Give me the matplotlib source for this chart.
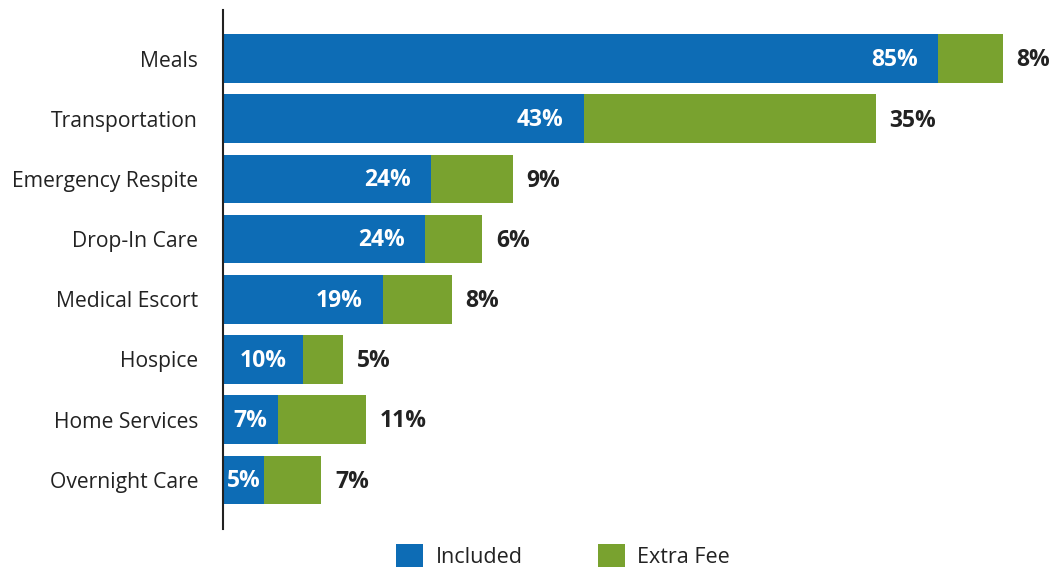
import matplotlib
matplotlib.use("Agg")
import matplotlib.pyplot as plt
from matplotlib.patches import Patch

categories = ["Meals", "Transportation", "Emergency Respite", "Drop-In Care",
              "Medical Escort", "Hospice", "Home Services", "Overnight Care"]
included = [85.0, 42.9, 24.7, 24.0, 19.0, 9.5, 6.5, 4.9]
extra_fee = [7.7, 34.7, 9.75, 6.8, 8.2, 4.8, 10.5, 6.8]
included_labels = ["85%", "43%", "24%", "24%", "19%", "10%", "7%", "5%"]
extra_labels = ["8%", "35%", "9%", "6%", "8%", "5%", "11%", "7%"]
series_names = ["Included", "Extra Fee"]

BLUE = "#0d6cb5"
GREEN = "#79a22f"
DARK = "#222222"

plt.rcParams["font.family"] = ["Open Sans", "DejaVu Sans"]

W, H = 1061, 569
fig = plt.figure(figsize=(W / 100, H / 100), dpi=100)
ax = fig.add_axes([223 / W, 1 - 529 / H, 838 / W, 519 / H])

y = list(range(len(categories)))
ax.barh(y, included, height=0.81, color=BLUE, zorder=2)
ax.barh(y, extra_fee, left=included, height=0.81, color=GREEN, zorder=2)

VFS = 16.5
for i in y:
    inc = included[i]
    if inc < 12:
        ax.text(inc / 2, i + 0.02, included_labels[i], ha="center", va="center",
                color="white", fontsize=VFS, fontweight="bold", zorder=3)
    else:
        ax.annotate(included_labels[i], xy=(inc, i + 0.02), xytext=(-14.5, 0),
                    textcoords="offset points", ha="right", va="center",
                    color="white", fontsize=VFS, fontweight="bold", zorder=3)
    ax.annotate(extra_labels[i], xy=(inc + extra_fee[i], i + 0.03), xytext=(10, 0),
                textcoords="offset points", ha="left", va="center",
                color=DARK, fontsize=VFS, fontweight="bold", zorder=3)

ax.set_xlim(0, 838 / 8.41)
ax.set_ylim(7.816, -0.806)
ax.set_yticks(y)
ax.set_yticklabels(categories, fontsize=15.2, color=DARK)
ax.tick_params(axis="y", length=0, pad=18)
ax.set_xticks([])
for s in ["top", "right", "bottom"]:
    ax.spines[s].set_visible(False)
ax.spines["left"].set_color(DARK)
ax.spines["left"].set_linewidth(1.5)
ax.spines["left"].set_zorder(4)

handles = [Patch(facecolor=BLUE, edgecolor="none"),
           Patch(facecolor=GREEN, edgecolor="none")]
leg = fig.legend(handles, series_names, loc="center", bbox_to_anchor=(563 / W, 1 - 556 / H),
                 ncol=2, frameon=False, fontsize=15.5, handlelength=1.26, handleheight=1.26,
                 handletextpad=0.56, columnspacing=3.5, borderpad=0)
for t in leg.get_texts():
    t.set_color(DARK)

fig.savefig("out.png", dpi=100)
